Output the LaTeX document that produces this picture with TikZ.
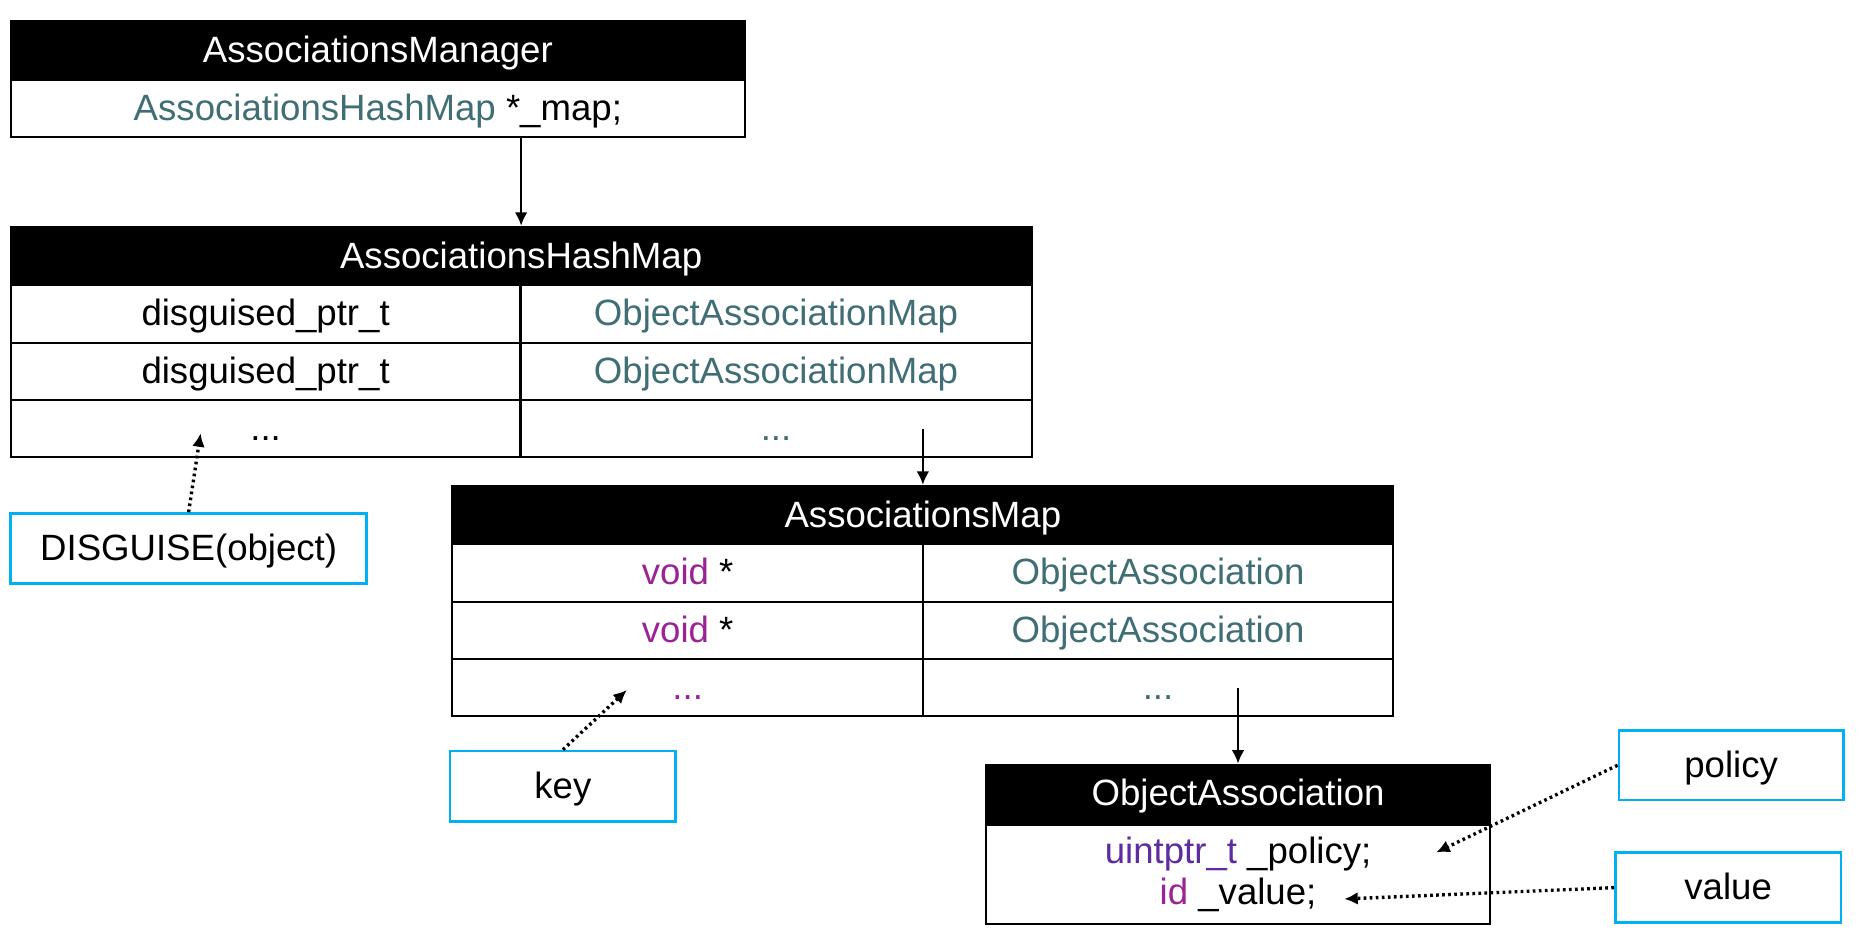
\documentclass[tikz,border=0pt]{standalone}
\usepackage{fontspec}
\setmainfont{Liberation Sans}
\usetikzlibrary{arrows.meta}
\definecolor{typeteal}{RGB}{63,110,116}
\definecolor{kwpink}{RGB}{155,35,147}
\definecolor{typepurple}{RGB}{93,44,160}
\definecolor{notecyan}{RGB}{0,176,240}

\begin{document}
\begin{tikzpicture}[x=0.0125cm, y=-0.0125cm,
  every node/.style={font=\fontsize{10.9pt}{12.2pt}\selectfont},
  box/.style={draw, line width=0.6pt, inner sep=0pt},
  hdr/.style={box, fill=black, text=white, minimum height=0.6125cm, text height=9.4pt, text depth=2.3pt},
  cell/.style={box, minimum height=0.6cm, text height=9.4pt, text depth=2.3pt},
  note/.style={draw=notecyan, line width=0.8pt, inner sep=0pt, minimum height=0.735cm, text height=9.4pt, text depth=2.3pt},
  arr/.style={-{Latex[length=4pt,width=3.8pt]}, line width=0.8pt},
  dotarr/.style={arr, densely dotted, line width=1pt}]
\useasboundingbox (0,0) rectangle (1568,792);
% manager
\node[hdr, minimum width=7.6875cm] (mgrhead) at (316.5,42.5) {AssociationsManager};
\node[cell, minimum width=7.6875cm] (mgrbody) at (316.5,91) {\textcolor{typeteal}{AssociationsHashMap} *\_map;};
% hash map
\node[hdr, minimum width=10.6875cm] (hashhead) at (436.5,214.5) {AssociationsHashMap};
\foreach \r/\y in {1/263, 2/311} {
  \node[cell, minimum width=5.3375cm] (hashkey\r) at (222.5,\y) {disguised\_ptr\_t};
  \node[cell, minimum width=5.35cm] (hashval\r) at (650,\y) {\textcolor{typeteal}{ObjectAssociationMap}};
}
\node[cell, minimum width=5.3375cm] (hashkey3) at (222.5,359) {...};
\node[cell, minimum width=5.35cm] (hashval3) at (650,359) {\textcolor{typeteal}{...}};
% associations map
\node[hdr, minimum width=9.85cm] (maphead) at (773,431.5) {AssociationsMap};
\foreach \r/\y in {1/480, 2/528} {
  \node[cell, minimum width=4.925cm] (mapkey\r) at (576,\y) {\textcolor{kwpink}{void} *};
  \node[cell, minimum width=4.925cm] (mapval\r) at (970,\y) {\textcolor{typeteal}{ObjectAssociation}};
}
\node[cell, minimum width=4.925cm] (mapkey3) at (576,576) {\textcolor{kwpink}{...}};
\node[cell, minimum width=4.925cm] (mapval3) at (970,576) {\textcolor{typeteal}{...}};
% object association
\node[hdr, minimum width=5.275cm] (objhead) at (1037,665) {ObjectAssociation};
\node[box, minimum width=5.275cm, minimum height=1.0375cm, align=center] (objbody) at (1037,732.5)
  {\textcolor{typepurple}{uintptr\_t} \_policy;\\ \textcolor{kwpink}{id} \_value;};
% notes
\node[note, minimum width=3.725cm] (disguise) at (158,459.5) {DISGUISE(object)};
\node[note, minimum width=2.3625cm] (key) at (471.5,658.5) {key};
\node[note, minimum width=2.35cm, minimum height=0.725cm] (policy) at (1450,641) {policy};
\node[note, minimum width=2.3625cm] (value) at (1447.5,743.5) {value};
% links
\draw[arr] (hashhead.north |- mgrbody.south) -- (hashhead.north);
\draw[arr] (maphead.north |- hashval3.center) -- (maphead.north);
\draw[arr] (objhead.north |- mapval3.center) -- (objhead.north);
\coordinate (disgtip) at (168,363);
\coordinate (keytip) at (525,578);
\coordinate (policytip) at (1203,714);
\coordinate (valuetip) at (1126,753);
\draw[dotarr] (disguise.north) -- (disgtip);
\draw[dotarr] (key.north) -- (keytip);
\draw[dotarr] (policy.west) -- (policytip);
\draw[dotarr] (value.west) -- (valuetip);
\end{tikzpicture}
\end{document}
